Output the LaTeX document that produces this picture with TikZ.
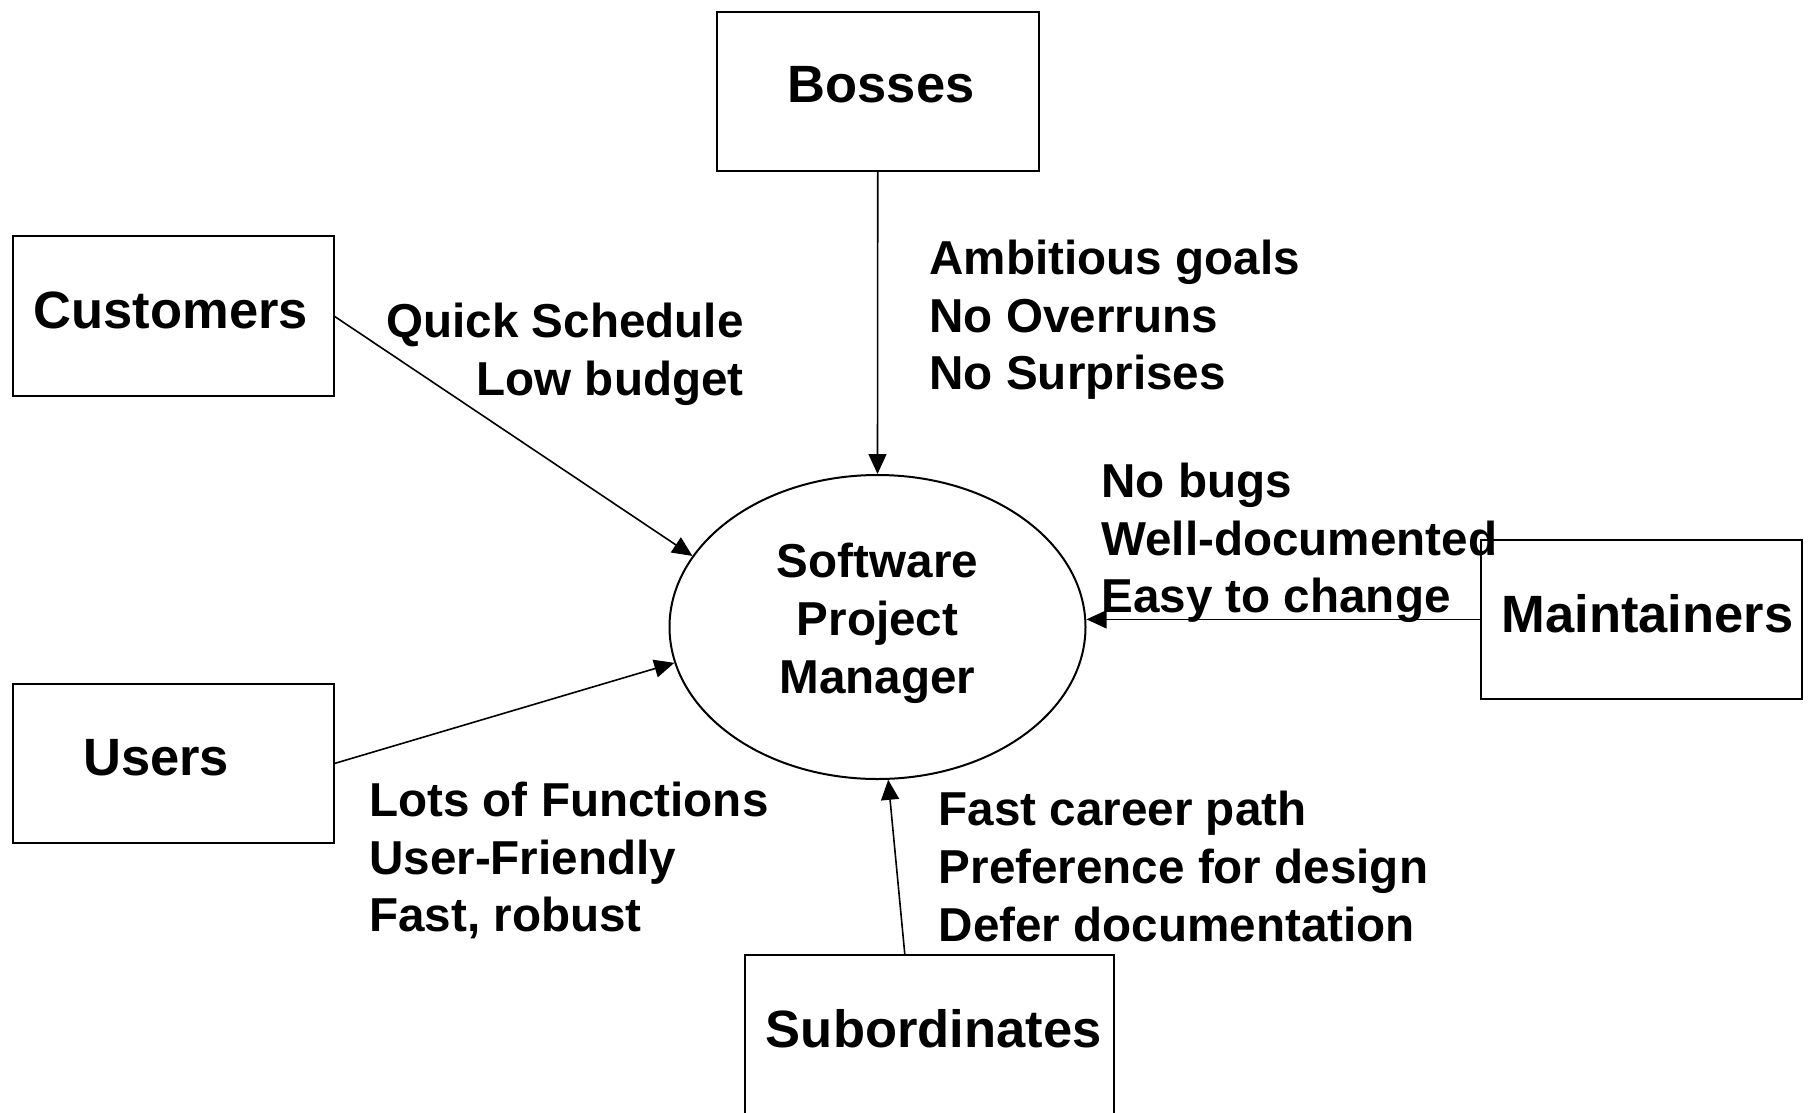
\documentclass[tikz,border=0pt]{standalone}
\usepackage{fontspec}
\setmainfont{Liberation Sans}
\usetikzlibrary{shapes.geometric,arrows.meta}
\begin{document}
\begin{tikzpicture}[x=1pt,y=-1pt,
  box/.style={draw, line width=2pt, minimum width=321.5pt, minimum height=159.5pt,
              inner sep=0pt, outer sep=0pt, anchor=north west},
  boxtext/.style={font=\bfseries\fontsize{52.5}{63}\selectfont, inner sep=0pt, anchor=base west},
  note/.style={font=\bfseries\fontsize{47.6}{57.7}\selectfont, inner sep=0pt, align=left, anchor=base west},
  arr/.style={line width=1.6pt, -{Triangle[length=20pt,width=18pt]}}]

% page area
\fill[white] (0,0) rectangle (1808,1112);
\clip (0,0) rectangle (1808,1112);

% stakeholder boxes
\node[box] (bosses) at (717,11.5) {};
\node[box] (cust)   at (12.7,236.4) {};
\node[box] (users)  at (12.7,683.8) {};
\node[box] (maint)  at (1480.6,539.6) {};
\node[box, minimum width=368.5pt] (sub) at (745,955) {};

\node[boxtext] (bossesT) at (787.6,102.5) {Bosses};
\node[boxtext] (custT)   at (33.4,328.6) {Customers};
\node[boxtext] (usersT)  at (83,775) {Users};
\node[boxtext] (maintT)  at (1501.3,632) {Maintainers};
\node[boxtext] (subT)    at (765.7,1047) {Subordinates};

% the manager in the middle (multi-line nodes sit on their last baseline)
\node[draw, ellipse, line width=2pt, minimum width=416pt, minimum height=304pt,
      inner sep=0pt] (pm) at (877.5,627) {};
\node[note, align=center, anchor=base] (pmT) at (877.5,693) {Software\\Project\\Manager};

% expectations
\node[note, align=right, anchor=base east] (custN) at (743.8,395.6) {Quick Schedule\\Low budget};
\node[note] (bossN)  at (929.4,389.8) {Ambitious goals\\No Overruns\\No Surprises};
\node[note] (maintN) at (1101.2,612.9) {No bugs\\Well-documented\\Easy to change};
\node[note] (usersN) at (369,931.8) {Lots of Functions\\User-Friendly\\Fast, robust};
\node[note] (subN)   at (938.6,941) {Fast career path\\Preference for design\\Defer documentation};

% pressures on the manager
\draw[arr] (bosses.south) -- (pm.north);
\draw[arr] (cust.east) -- (pm.159);
\draw[arr] (users.east) -- (pm.190);
\draw[arr] (maint.west) -- (pm.east |- maint.west);
\draw[arr] (sub.107) -- (pm.-86);
\end{tikzpicture}
\end{document}
